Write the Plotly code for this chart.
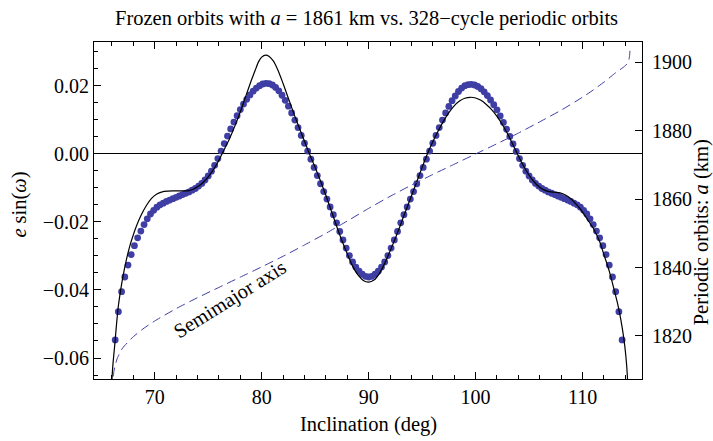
import plotly.graph_objects as go

# ---- periodic-orbit dots (inclination deg, e sin(omega)) ----
dot_incl = [
    66.3, 66.6, 66.9, 67.2, 67.5, 67.8, 68.1, 68.4, 68.7, 69.0,
    69.3, 69.6, 69.9, 70.2, 70.5, 70.8, 71.1, 71.4, 71.7, 72.0,
    72.3, 72.6, 72.9, 73.2, 73.5, 73.8, 74.1, 74.4, 74.7, 75.0,
    75.3, 75.6, 75.9, 76.2, 76.5, 76.8, 77.1, 77.4, 77.7, 78.0,
    78.3, 78.6, 78.9, 79.2, 79.5, 79.8, 80.1, 80.4, 80.7, 81.0,
    81.3, 81.6, 81.9, 82.2, 82.5, 82.8, 83.1, 83.4, 83.7, 84.0,
    84.3, 84.6, 84.9, 85.2, 85.5, 85.8, 86.1, 86.4, 86.7, 87.0,
    87.3, 87.6, 87.9, 88.2, 88.5, 88.8, 89.1, 89.4, 89.7, 90.0,
    90.3, 90.6, 90.9, 91.2, 91.5, 91.8, 92.1, 92.4, 92.7, 93.0,
    93.3, 93.6, 93.9, 94.2, 94.5, 94.8, 95.1, 95.4, 95.7, 96.0,
    96.3, 96.6, 96.9, 97.2, 97.5, 97.8, 98.1, 98.4, 98.7, 99.0,
    99.3, 99.6, 99.9, 100.2, 100.5, 100.8, 101.1, 101.4, 101.7, 102.0,
    102.3, 102.6, 102.9, 103.2, 103.5, 103.8, 104.1, 104.4, 104.7, 105.0,
    105.3, 105.6, 105.9, 106.2, 106.5, 106.8, 107.1, 107.4, 107.7, 108.0,
    108.3, 108.6, 108.9, 109.2, 109.5, 109.8, 110.1, 110.4, 110.7, 111.0,
    111.3, 111.6, 111.9, 112.2, 112.5, 112.8, 113.1, 113.4, 113.7,
]
dot_esinw = [
    -0.0547, -0.0464, -0.0405, -0.0362, -0.0327, -0.0296, -0.0270, -0.0247, -0.0227, -0.0208,
    -0.0191, -0.0177, -0.0166, -0.0157, -0.0150, -0.0145, -0.0140, -0.0136, -0.0132, -0.0128,
    -0.0124, -0.0120, -0.0116, -0.0112, -0.0107, -0.0102, -0.0095, -0.0087, -0.0077, -0.0065,
    -0.0051, -0.0034, -0.0014, 0.0008, 0.0030, 0.0052, 0.0073, 0.0093, 0.0112, 0.0130,
    0.0146, 0.0160, 0.0173, 0.0184, 0.0193, 0.0200, 0.0205, 0.0207, 0.0206, 0.0202,
    0.0195, 0.0185, 0.0172, 0.0157, 0.0140, 0.0120, 0.0099, 0.0077, 0.0054, 0.0031,
    0.0008, -0.0016, -0.0040, -0.0064, -0.0088, -0.0111, -0.0133, -0.0156, -0.0179, -0.0203,
    -0.0228, -0.0253, -0.0277, -0.0299, -0.0318, -0.0333, -0.0345, -0.0354, -0.0360, -0.0362,
    -0.0360, -0.0354, -0.0345, -0.0333, -0.0318, -0.0299, -0.0277, -0.0253, -0.0228, -0.0203,
    -0.0179, -0.0156, -0.0133, -0.0111, -0.0088, -0.0064, -0.0040, -0.0016, 0.0008, 0.0031,
    0.0054, 0.0077, 0.0099, 0.0120, 0.0139, 0.0156, 0.0170, 0.0183, 0.0193, 0.0200,
    0.0203, 0.0204, 0.0202, 0.0198, 0.0191, 0.0182, 0.0171, 0.0158, 0.0144, 0.0129,
    0.0111, 0.0092, 0.0072, 0.0051, 0.0029, 0.0007, -0.0014, -0.0034, -0.0051, -0.0065,
    -0.0077, -0.0087, -0.0095, -0.0102, -0.0107, -0.0112, -0.0116, -0.0120, -0.0124, -0.0128,
    -0.0132, -0.0136, -0.0140, -0.0145, -0.0150, -0.0157, -0.0166, -0.0177, -0.0191, -0.0208,
    -0.0227, -0.0247, -0.0270, -0.0296, -0.0327, -0.0362, -0.0405, -0.0464, -0.0547,
]

# ---- frozen-orbit curve (a = 1861 km) ----
frozen_incl = [
    65.95, 66.0, 66.1, 66.25, 66.4, 66.56, 66.8, 67.03, 67.3, 67.66,
    68.0, 68.28, 68.7, 69.22, 69.7, 70.2, 70.7, 71.2, 71.7, 72.2,
    72.7, 73.2, 73.6, 74.0, 74.5, 75.0, 75.5, 76.0, 76.3, 76.6,
    77.0, 77.5, 78.0, 78.5, 79.0, 79.4, 79.7, 80.0, 80.37, 80.7,
    81.1, 81.5, 81.9, 82.3, 82.7, 83.1, 83.6, 84.0, 84.46, 85.0,
    85.5, 86.0, 86.5, 87.0, 87.5, 88.0, 88.5, 89.0, 89.5, 90.0,
    90.5, 91.0, 91.5, 92.0, 92.5, 93.0, 93.5, 94.0, 94.5, 95.0,
    95.5, 96.0, 96.5, 97.0, 97.5, 98.0, 98.5, 99.0, 99.5, 100.0,
    100.5, 101.0, 101.5, 102.0, 102.5, 103.0, 103.5, 103.9, 104.4, 104.9,
    105.4, 105.9, 106.4, 106.9, 107.4, 107.9, 108.4, 108.9, 109.4, 109.84,
    110.4, 111.08, 111.6, 112.02, 112.5, 112.95, 113.3, 113.58, 113.85, 114.05,
    114.21, 114.26,
]
frozen_esinw = [
    -0.0760, -0.0663, -0.0615, -0.0565, -0.0510, -0.0457, -0.0403, -0.0360, -0.0318, -0.0272,
    -0.0238, -0.0213, -0.0182, -0.0152, -0.0131, -0.0118, -0.0112, -0.0110, -0.0109, -0.0109,
    -0.0109, -0.0108, -0.0104, -0.0097, -0.0085, -0.0068, -0.0046, -0.0019, 0.0000, 0.0019,
    0.0045, 0.0082, 0.0123, 0.0168, 0.0213, 0.0246, 0.0270, 0.0284, 0.0290, 0.0286,
    0.0272, 0.0247, 0.0215, 0.0180, 0.0145, 0.0110, 0.0069, 0.0037, 0.0000, -0.0040,
    -0.0080, -0.0122, -0.0167, -0.0212, -0.0255, -0.0294, -0.0330, -0.0356, -0.0372, -0.0377,
    -0.0371, -0.0352, -0.0322, -0.0286, -0.0248, -0.0207, -0.0165, -0.0124, -0.0082, -0.0040,
    0.0000, 0.0035, 0.0067, 0.0096, 0.0121, 0.0141, 0.0155, 0.0163, 0.0166, 0.0164,
    0.0157, 0.0145, 0.0130, 0.0110, 0.0086, 0.0058, 0.0026, 0.0000, -0.0031, -0.0058,
    -0.0080, -0.0096, -0.0106, -0.0111, -0.0113, -0.0115, -0.0121, -0.0132, -0.0148, -0.0164,
    -0.0190, -0.0223, -0.0258, -0.0298, -0.0345, -0.0399, -0.0443, -0.0487, -0.0540, -0.0594,
    -0.0663, -0.0760,
]

# ---- semimajor axis of the periodic orbits (km, right axis) ----
sma_incl = [
    65.98, 66.05, 66.2, 66.5, 67.0, 68.0, 69.0, 70.0, 72.0, 74.0,
    76.0, 78.0, 80.0, 82.0, 84.0, 86.0, 88.0, 90.0, 92.0, 94.0,
    96.0, 98.0, 100.0, 102.0, 104.0, 106.0, 108.0, 110.0, 111.0, 112.0,
    113.0, 114.0, 114.3, 114.4, 114.45,
]
sma_km = [
    1800.0, 1806.0, 1810.0, 1813.5, 1816.5, 1819.8, 1822.3, 1824.4, 1828.0, 1831.2,
    1834.2, 1837.2, 1840.2, 1843.3, 1846.6, 1850.0, 1853.6, 1857.3, 1860.8, 1864.1,
    1867.2, 1870.2, 1873.2, 1876.2, 1879.3, 1882.6, 1886.0, 1889.8, 1891.9, 1894.2,
    1896.7, 1899.0, 1900.2, 1902.0, 1904.0,
]

x_ticks = [70, 80, 90, 100, 110]
y_ticks = [-0.06, -0.04, -0.02, 0.00, 0.02]
y2_ticks = [1820, 1840, 1860, 1880, 1900]

DOT = "rgb(62,62,165)"
FONT = "Liberation Serif"
TICK_SIZE = 20
LABEL_SIZE = 20.5

fig = go.Figure()
fig.add_trace(go.Scatter(
    x=dot_incl, y=dot_esinw, mode="markers",
    marker=dict(size=6.8, color=DOT, line=dict(width=0)),
    showlegend=False, hoverinfo="skip"))
fig.add_trace(go.Scatter(
    x=frozen_incl, y=frozen_esinw, mode="lines",
    line=dict(color="black", width=1.2, shape="spline", smoothing=0.6),
    showlegend=False, hoverinfo="skip"))
fig.add_trace(go.Scatter(
    x=sma_incl, y=sma_km, mode="lines", yaxis="y2",
    line=dict(color=DOT, width=1, dash="9px,5px", shape="spline", smoothing=0.5),
    showlegend=False, hoverinfo="skip"))

axis_common = dict(
    showgrid=False, showline=True, linecolor="black", linewidth=1,
    ticks="inside", tickcolor="black", ticklen=7, tickwidth=1,
    tickfont=dict(family=FONT, size=TICK_SIZE, color="black"),
)

fig.update_layout(
    width=713, height=441,
    margin=dict(l=94, r=71, t=42, b=62),
    paper_bgcolor="white", plot_bgcolor="white",
    font=dict(family=FONT, size=TICK_SIZE, color="black"),
    xaxis=dict(
        **axis_common, range=[64.32, 115.56], tickvals=x_ticks,
        mirror="ticks", zeroline=False,
        minor=dict(dtick=2, tick0=0, ticks="inside", ticklen=4, tickcolor="black"),
    ),
    yaxis=dict(
        **axis_common, range=[-0.06617, 0.03284], tickvals=y_ticks,
        tickformat=".2f", mirror=False,
        zeroline=True, zerolinecolor="black", zerolinewidth=1,
        minor=dict(dtick=0.005, tick0=0, ticks="inside", ticklen=4, tickcolor="black"),
    ),
    yaxis2=dict(
        **axis_common, range=[1807.43, 1905.93], tickvals=y2_ticks,
        overlaying="y", side="right", zeroline=False, ticklabelstandoff=5,
    ),
    annotations=[
        dict(text="Frozen orbits with <i>a</i> = 1861 km vs. 328\u2212cycle periodic orbits",
             x=0.497, y=(379 - 19) / 337, xref="paper", yref="paper",
             showarrow=False, xanchor="center", yanchor="middle",
             font=dict(family=FONT, size=LABEL_SIZE)),
        dict(text="Inclination (deg)", x=0.5, y=(379 - 424) / 337,
             xref="paper", yref="paper", showarrow=False,
             xanchor="center", yanchor="middle", font=dict(family=FONT, size=LABEL_SIZE)),
        dict(text="<i>e</i> sin(<i>\u03c9</i>)", x=(19 - 94.3) / 547.4, y=(379 - 205) / 337,
             xref="paper", yref="paper", showarrow=False, textangle=-90,
             xanchor="center", yanchor="middle", font=dict(family=FONT, size=LABEL_SIZE)),
        dict(text="Periodic orbits: <i>a</i> (km)", x=(702 - 94.3) / 547.4, y=(379 - 232) / 337,
             xref="paper", yref="paper", showarrow=False, textangle=-90,
             xanchor="center", yanchor="middle", font=dict(family=FONT, size=LABEL_SIZE)),
        dict(text="Semimajor axis", x=77.03, y=-0.0428, xref="x", yref="y",
             showarrow=False, textangle=-32, xanchor="center", yanchor="middle",
             font=dict(family=FONT, size=LABEL_SIZE)),
    ],
)

fig.write_html(
    "out.html",
    config={"displayModeBar": False},
    post_script="document.body.style.margin='0';document.body.style.overflow='hidden';",
)
